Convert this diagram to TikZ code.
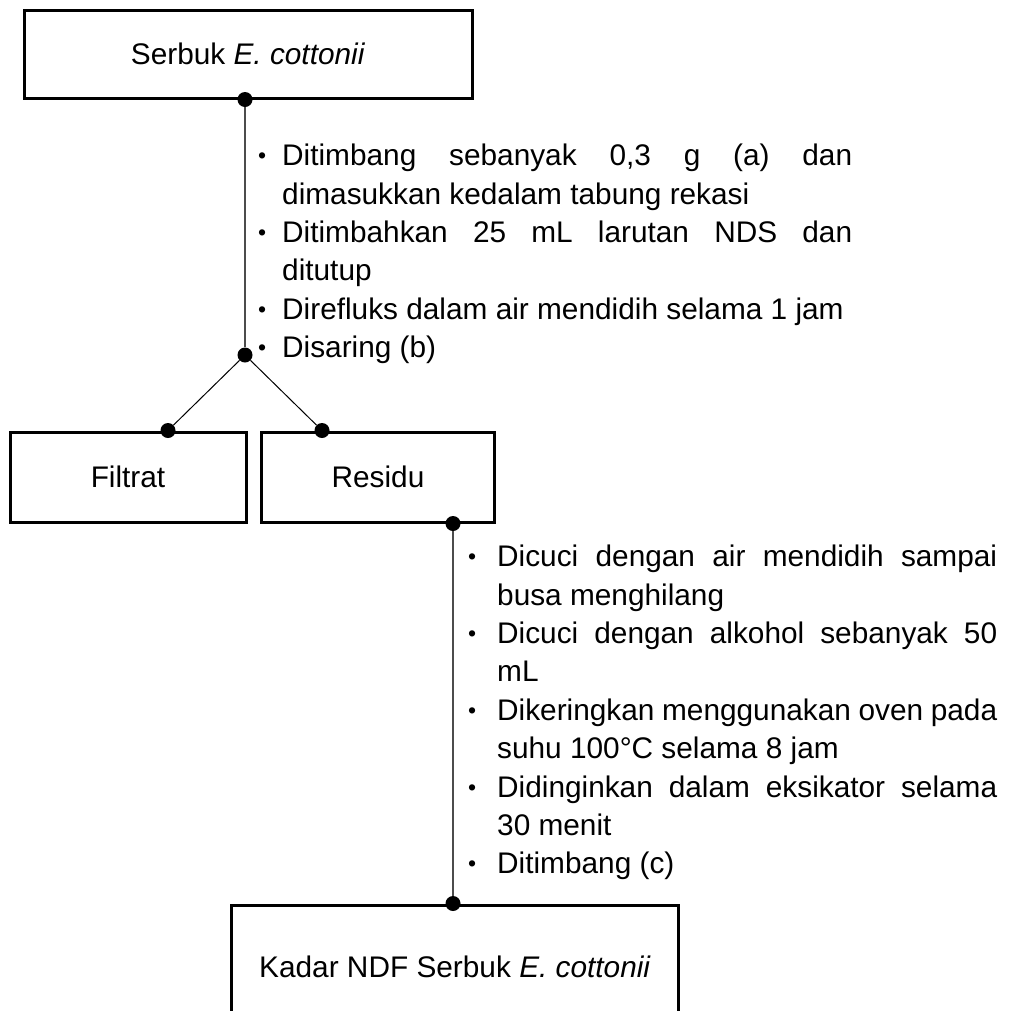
\documentclass[tikz,border=0pt]{standalone}
\usepackage{fontspec}
\setmainfont{Liberation Sans}
\usepackage{tikz}
\usetikzlibrary{positioning,calc}

% bullet hanging left of each step
\newcommand{\itm}[1][16pt]{\par\leavevmode\llap{\raisebox{2pt}{\fontsize{23}{23}\selectfont\textbullet}\hspace{#1}}\ignorespaces}

\begin{document}
\begin{tikzpicture}[x=1pt, y=-1pt,
    box/.style={draw, line width=3pt, inner sep=0pt, align=center},     % Style for the boxes
    dot/.style={circle, fill=black, inner sep=0pt, minimum size=15pt},  % Junction dots
    link/.style={line width=1.4pt, draw=black!70},                      % Vertical connectors
    split/.style={line width=1pt, draw=black},                          % Branches to filtrat and residu
    steplist/.style={inner sep=0pt, align=justify, anchor=north west},  % Procedure text
    font=\fontsize{29.8}{38.4}\selectfont
    ]
    \clip (0,0) rectangle (1011,1010);

    % Boxes
    \node[box, minimum width=448, minimum height=88] (serbuk) at (248,54) {Serbuk \textit{E. cottonii}};
    \node[box, minimum width=236, minimum height=90] (filtrat) at (128,477) {Filtrat};
    \node[box, minimum width=233, minimum height=90] (residu) at (378,477) {Residu};
    \node[box, minimum width=447, minimum height=124] (kadar) at (455,967) {Kadar NDF Serbuk \textit{E. cottonii}};

    % Junction dots
    \node[dot] (d2) at (245,355) {};
    \node[dot] (d1) at (d2 |- serbuk.south) {};
    \node[dot] (d3) at ([xshift=40pt]filtrat.north) {};
    \node[dot] (d4) at ([xshift=-56pt]residu.north) {};
    \node[dot] (d5) at ([xshift=75pt]residu.south) {};
    \node[dot] (d6) at (d5 |- kadar.north) {};

    % Connectors
    \draw[link] (d1) -- (d2);
    \draw[split] (d2) -- (d3);
    \draw[split] (d2) -- (d4);
    \draw[link] (d5) -- (d6);

    % Steps before filtering
    \node[steplist, text width=570] (steps1) at (282,127) {%
      \itm Ditimbang sebanyak 0,3 g (a) dan\linebreak dimasukkan kedalam tabung rekasi
      \itm Ditimbahkan 25 mL larutan NDS dan\linebreak ditutup
      \itm Direfluks dalam air mendidih selama 1 jam
      \itm Disaring (b)};

    % Steps on the residu
    \node[steplist, text width=500] (steps2) at (497,528) {%
      \itm[21pt] Dicuci dengan air mendidih sampai\linebreak busa menghilang
      \itm[21pt] Dicuci dengan alkohol sebanyak 50\linebreak mL
      \itm[21pt] Dikeringkan menggunakan oven pada\linebreak suhu 100°C selama 8 jam
      \itm[21pt] Didinginkan dalam eksikator selama\linebreak 30 menit
      \itm[21pt] Ditimbang (c)};
\end{tikzpicture}
\end{document}
